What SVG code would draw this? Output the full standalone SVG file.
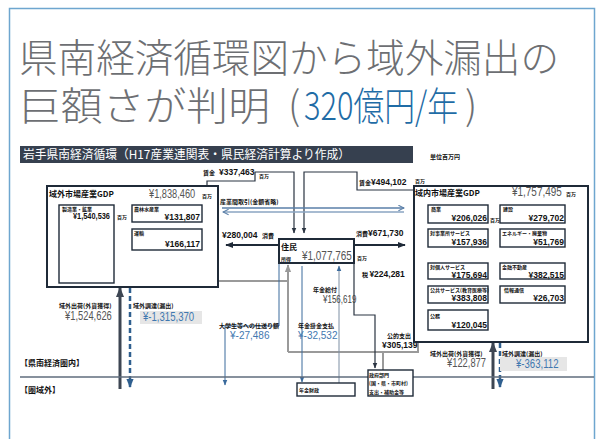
<svg xmlns="http://www.w3.org/2000/svg" width="602" height="439" viewBox="0 0 602 439">
<style>
.frame{fill:#fff;stroke:#6ea6cf;stroke-width:1.5}
.title{font-family:"Noto Sans CJK JP","Noto Sans",sans-serif;font-weight:300;font-size:39px;fill:#6d6f73}
.tblue{fill:#1f6ca6}
.box{fill:#fff;stroke:#1f2a38;stroke-width:2}
.ibox{fill:#fff;stroke:#1f2a38;stroke-width:1.4}
.lb{font-family:"Noto Sans CJK JP",sans-serif;font-weight:700;font-size:6px;fill:#111}
.lbs{font-family:"Noto Sans CJK JP",sans-serif;font-weight:700;font-size:5px;fill:#111}
.hd{font-family:"Noto Sans CJK JP",sans-serif;font-weight:700;font-size:8px;fill:#111}
.num{font-family:"Liberation Sans",sans-serif;font-weight:700;font-size:8.5px;fill:#111}
.big{font-family:"Liberation Sans",sans-serif;font-size:12px;fill:#555}
.mid{font-family:"Liberation Sans",sans-serif;font-size:10px;fill:#444}
.bl{fill:#3f78b0}
.dark{fill:none;stroke:#1f2a38;stroke-width:2}
.thin{fill:none;stroke:#2a3442;stroke-width:1.2}
.grey{fill:none;stroke:#9a9a9a;stroke-width:2}
.blue{fill:none;stroke:#3a6a9c;stroke-width:1}
.dash{fill:none;stroke:#2f5f8f;stroke-width:2.5;stroke-dasharray:5 3}
.thick{fill:none;stroke:#3d4653;stroke-width:3}
</style>
<defs>
<marker id="ad" viewBox="0 0 10 10" refX="9" refY="5" markerWidth="8" markerHeight="8" markerUnits="userSpaceOnUse" orient="auto"><path d="M0,1 L10,5 L0,9 Z" fill="#1f2a38"/></marker>
<marker id="at" viewBox="0 0 10 10" refX="9" refY="5" markerWidth="6" markerHeight="6" markerUnits="userSpaceOnUse" orient="auto"><path d="M0,1 L10,5 L0,9 Z" fill="#2a3442"/></marker>
<marker id="ag" viewBox="0 0 10 10" refX="9" refY="5" markerWidth="8" markerHeight="8" markerUnits="userSpaceOnUse" orient="auto"><path d="M0,1 L10,5 L0,9 Z" fill="#9a9a9a"/></marker>
<marker id="ab" viewBox="0 0 10 10" refX="9" refY="5" markerWidth="6" markerHeight="6" markerUnits="userSpaceOnUse" orient="auto"><path d="M0,1 L10,5 L0,9 Z" fill="#3a6a9c"/></marker>
<marker id="abd" viewBox="0 0 10 10" refX="9" refY="5" markerWidth="9" markerHeight="9" markerUnits="userSpaceOnUse" orient="auto"><path d="M0,1 L10,5 L0,9 Z" fill="#2f5f8f"/></marker>
<marker id="ak" viewBox="0 0 10 10" refX="9" refY="5" markerWidth="10" markerHeight="10" markerUnits="userSpaceOnUse" orient="auto"><path d="M0,1 L10,5 L0,9 Z" fill="#3d4653"/></marker>
<marker id="ao" viewBox="0 0 10 10" refX="9" refY="5" markerWidth="7" markerHeight="7" markerUnits="userSpaceOnUse" orient="auto"><path d="M1,1 L9,5 L1,9" fill="none" stroke="#5a7fa8" stroke-width="1.5"/></marker>
</defs>

<rect class="frame" x="9.5" y="8.5" width="585" height="445"/>

<g id="title">
<text class="title" x="19" y="72" textLength="540" lengthAdjust="spacingAndGlyphs">県南経済循環図から域外漏出の</text>
<text class="title" x="19" y="120" textLength="251" lengthAdjust="spacingAndGlyphs">巨額さが判明</text>
<text class="title" x="288" y="120">(</text>
<text class="title tblue" transform="translate(304 120) scale(0.79 1)" x="0" y="0">320億円/年</text>
<text class="title" x="465" y="120">)</text>
</g>

<g id="header">
<rect x="20" y="146" width="393" height="17" fill="#36404f"/>
<text x="23" y="159" font-family="Noto Sans CJK JP,sans-serif" font-size="12" fill="#fff" textLength="327" lengthAdjust="spacingAndGlyphs">岩手県南経済循環（H17産業連関表・県民経済計算より作成）</text>
<text class="lb" x="430" y="159">単位百万円</text>
</g>

<g id="connectors">
<path class="thin" d="M207,186 V181 H255 V172 H294 V233" marker-end="url(#at)"/>
<path class="thin" d="M414,190 H357 V172 H304 V233" marker-end="url(#at)"/>
<path d="M222,208 H404" fill="none" stroke="#5a7fa8" stroke-width="1.3" marker-end="url(#ao)"/>
<path d="M404,212 H223" fill="none" stroke="#8aa4c2" stroke-width="1.3" marker-end="url(#ao)"/>
<path class="dark" d="M279,245 H226" marker-end="url(#ad)"/>
<path class="dark" d="M354,245 H405" marker-end="url(#ad)"/>
<path class="grey" d="M383,370 V352"/>
<path class="grey" d="M288,352 H418 V331" marker-end="url(#ag)"/>
<path class="grey" d="M288,352 V265" marker-end="url(#ag)"/>
<path class="grey" d="M289,281 H192" marker-end="url(#ag)"/>
<path class="thin" d="M354,263 V315 H375 V368" marker-end="url(#at)"/>
<path class="blue" d="M279,263 V326 H225 V385" marker-end="url(#ab)"/>
<path class="blue" d="M302,266 V382" marker-end="url(#ab)"/>
<path d="M339,383 V266" fill="none" stroke="#7d8ea3" stroke-width="1" marker-end="url(#ab)"/>
<path class="thick" d="M120,389 V288" marker-end="url(#ak)"/>
<path class="dash" d="M130,288 V387" marker-end="url(#abd)"/>
<path class="thick" d="M493,389 V343" marker-end="url(#ak)"/>
<path class="dash" d="M500,343 V387" marker-end="url(#abd)"/>
<path d="M20,377 H594" stroke="#5f6d7c" stroke-width="1.5" fill="none"/>
</g>

<g id="labels">
<text class="lb" x="203" y="175">賃金</text>
<text class="num" x="219" y="175" font-size="7.5">¥337,463</text>
<text class="lbs" x="259" y="178">百万</text>
<text class="lb" x="359" y="185">賃金<tspan class="num" font-size="7.5">¥494,102</tspan></text>
<text class="lbs" x="415" y="183">百万</text>
<text class="lb" x="220" y="204">産業間取引(金額省略)</text>
<text class="num" x="222" y="238">¥280,004</text>
<text class="lb" x="262" y="238">消費</text>
<text class="lb" x="356" y="236">消費<tspan class="num">¥671,730</tspan></text>
<text class="lb" x="362" y="277">税 <tspan class="num" font-size="7.5">¥224,281</tspan></text>
<text class="lb" x="313" y="292">年金給付</text>
<text class="mid" transform="translate(323 303) scale(0.8 1)" x="0" y="0" font-size="8">¥156,619</text>
<text class="lb" x="298" y="328">年金掛金支払</text>
<text class="mid bl" x="298" y="339" font-size="8">¥-32,532</text>
<text class="lb" x="219" y="328">大学生等への仕送り額</text>
<text class="mid bl" x="230" y="339" font-size="8">¥-27,486</text>
<text class="lb" x="387" y="338">公的支出</text>
<text class="num" x="382" y="348">¥305,139</text>
<text class="lb" x="59" y="308">域外出荷(外貨獲得)</text>
<text class="big" transform="translate(65 320) scale(0.78 1)" x="0" y="0">¥1,524,626</text>
<text class="lb" x="133" y="308">域外調達(漏出)</text>
<rect x="140" y="311" width="62" height="13" fill="#e6e6e6"/>
<text class="big bl" transform="translate(143 321) scale(0.8 1)" x="0" y="0">¥-1,315,370</text>
<text class="lb" x="430" y="356">域外出荷(外貨獲得)</text>
<text class="big" transform="translate(447 367) scale(0.78 1)" x="0" y="0">¥122,877</text>
<text class="lb" x="502" y="356">域外調達(漏出)</text>
<rect x="500" y="357" width="67" height="14" fill="#e6e6e6"/>
<text class="big bl" transform="translate(516 368) scale(0.8 1)" x="0" y="0">¥-363,112</text>
<text class="hd" x="20" y="366">【県南経済圏内】</text>
<text class="hd" x="20" y="393">【圏域外】</text>
</g>

<g id="outside-market">
<rect class="box" x="47" y="186" width="171" height="101"/>
<text class="hd" x="49" y="197">域外市場産業GDP</text>
<text class="big" transform="translate(149 198) scale(0.77 1)" x="0" y="0">¥1,838,460</text>
<text class="lbs" x="202" y="198">百万</text>
<rect class="ibox" x="59" y="205" width="55" height="78"/>
<text class="lbs" x="62" y="211">製造業・鉱業</text>
<text class="num" transform="translate(73 219) scale(0.87 1)" x="0" y="0">¥1,540,536</text>
<text class="lbs" x="117" y="219">百万</text>
<rect class="ibox" x="132" y="205" width="70" height="17"/>
<text class="lbs" x="134" y="211">農林水産業</text>
<text class="num" x="200" y="220" text-anchor="end">¥131,807</text>
<rect class="ibox" x="132" y="229" width="70" height="21"/>
<text class="lbs" x="134" y="235">運輸</text>
<text class="num" x="200" y="247" text-anchor="end">¥166,117</text>
</g>

<g id="residents">
<rect class="box" x="279" y="239" width="75" height="24"/>
<text class="hd" x="281" y="250" font-size="9">住民</text>
<text class="lbs" x="281" y="261">所得</text>
<text class="big" transform="translate(302 260) scale(0.83 1)" x="0" y="0">¥1,077,765</text>
<text class="lbs" x="357" y="260">百万</text>
</g>

<g id="inside-market">
<rect class="box" x="414" y="186" width="174" height="156"/>
<text class="hd" x="415" y="196">域内市場産業GDP</text>
<text class="big" transform="translate(512 196) scale(0.83 1)" x="0" y="0">¥1,757,495</text>
<text class="lbs" x="566" y="196">百万</text>
<rect class="ibox" x="428" y="205" width="60" height="18"/>
<text class="lbs" x="431" y="211">商業</text>
<text class="num" x="487" y="221" text-anchor="end">¥206,026</text>
<text class="lbs" x="490" y="222">百万</text>
<rect class="ibox" x="500" y="205" width="65" height="18"/>
<text class="lbs" x="503" y="211">建設</text>
<text class="num" x="564" y="221" text-anchor="end">¥279,702</text>
<rect class="ibox" x="428" y="229" width="60" height="18"/>
<text class="lbs" x="430" y="235">対事業所サービス</text>
<text class="num" x="487" y="245" text-anchor="end">¥157,936</text>
<rect class="ibox" x="500" y="229" width="65" height="18"/>
<text class="lbs" x="502" y="235">エネルギー・廃棄物</text>
<text class="num" x="564" y="245" text-anchor="end">¥51,769</text>
<rect class="ibox" x="428" y="263" width="60" height="16"/>
<text class="lbs" x="430" y="269">対個人サービス</text>
<text class="num" x="487" y="278" text-anchor="end">¥175,694</text>
<rect class="ibox" x="500" y="263" width="65" height="16"/>
<text class="lbs" x="502" y="269">金融不動産</text>
<text class="num" x="564" y="278" text-anchor="end">¥382,515</text>
<rect class="ibox" x="428" y="286" width="60" height="17"/>
<text class="lbs" x="430" y="292">公共サービス(教育医療等)</text>
<text class="num" x="487" y="301" text-anchor="end">¥383,808</text>
<rect class="ibox" x="500" y="286" width="65" height="17"/>
<text class="lbs" x="504" y="292">情報通信</text>
<text class="num" x="564" y="301" text-anchor="end">¥26,703</text>
<rect class="ibox" x="428" y="310" width="60" height="20"/>
<text class="lbs" x="430" y="318">公務</text>
<text class="num" x="487" y="328" text-anchor="end">¥120,045</text>
</g>

<g id="pension-fund">
<rect class="ibox" x="297" y="383" width="58" height="13"/>
<text class="lbs" x="299" y="392">年金財政</text>
</g>

<g id="government">
<rect class="ibox" x="368" y="370" width="45" height="26"/>
<text class="lbs" x="369" y="377">政府部門</text>
<text class="lbs" x="369" y="385">(国・県・市町村)</text>
<text class="lbs" x="369" y="394">支出・補助金等</text>
</g>
</svg>
